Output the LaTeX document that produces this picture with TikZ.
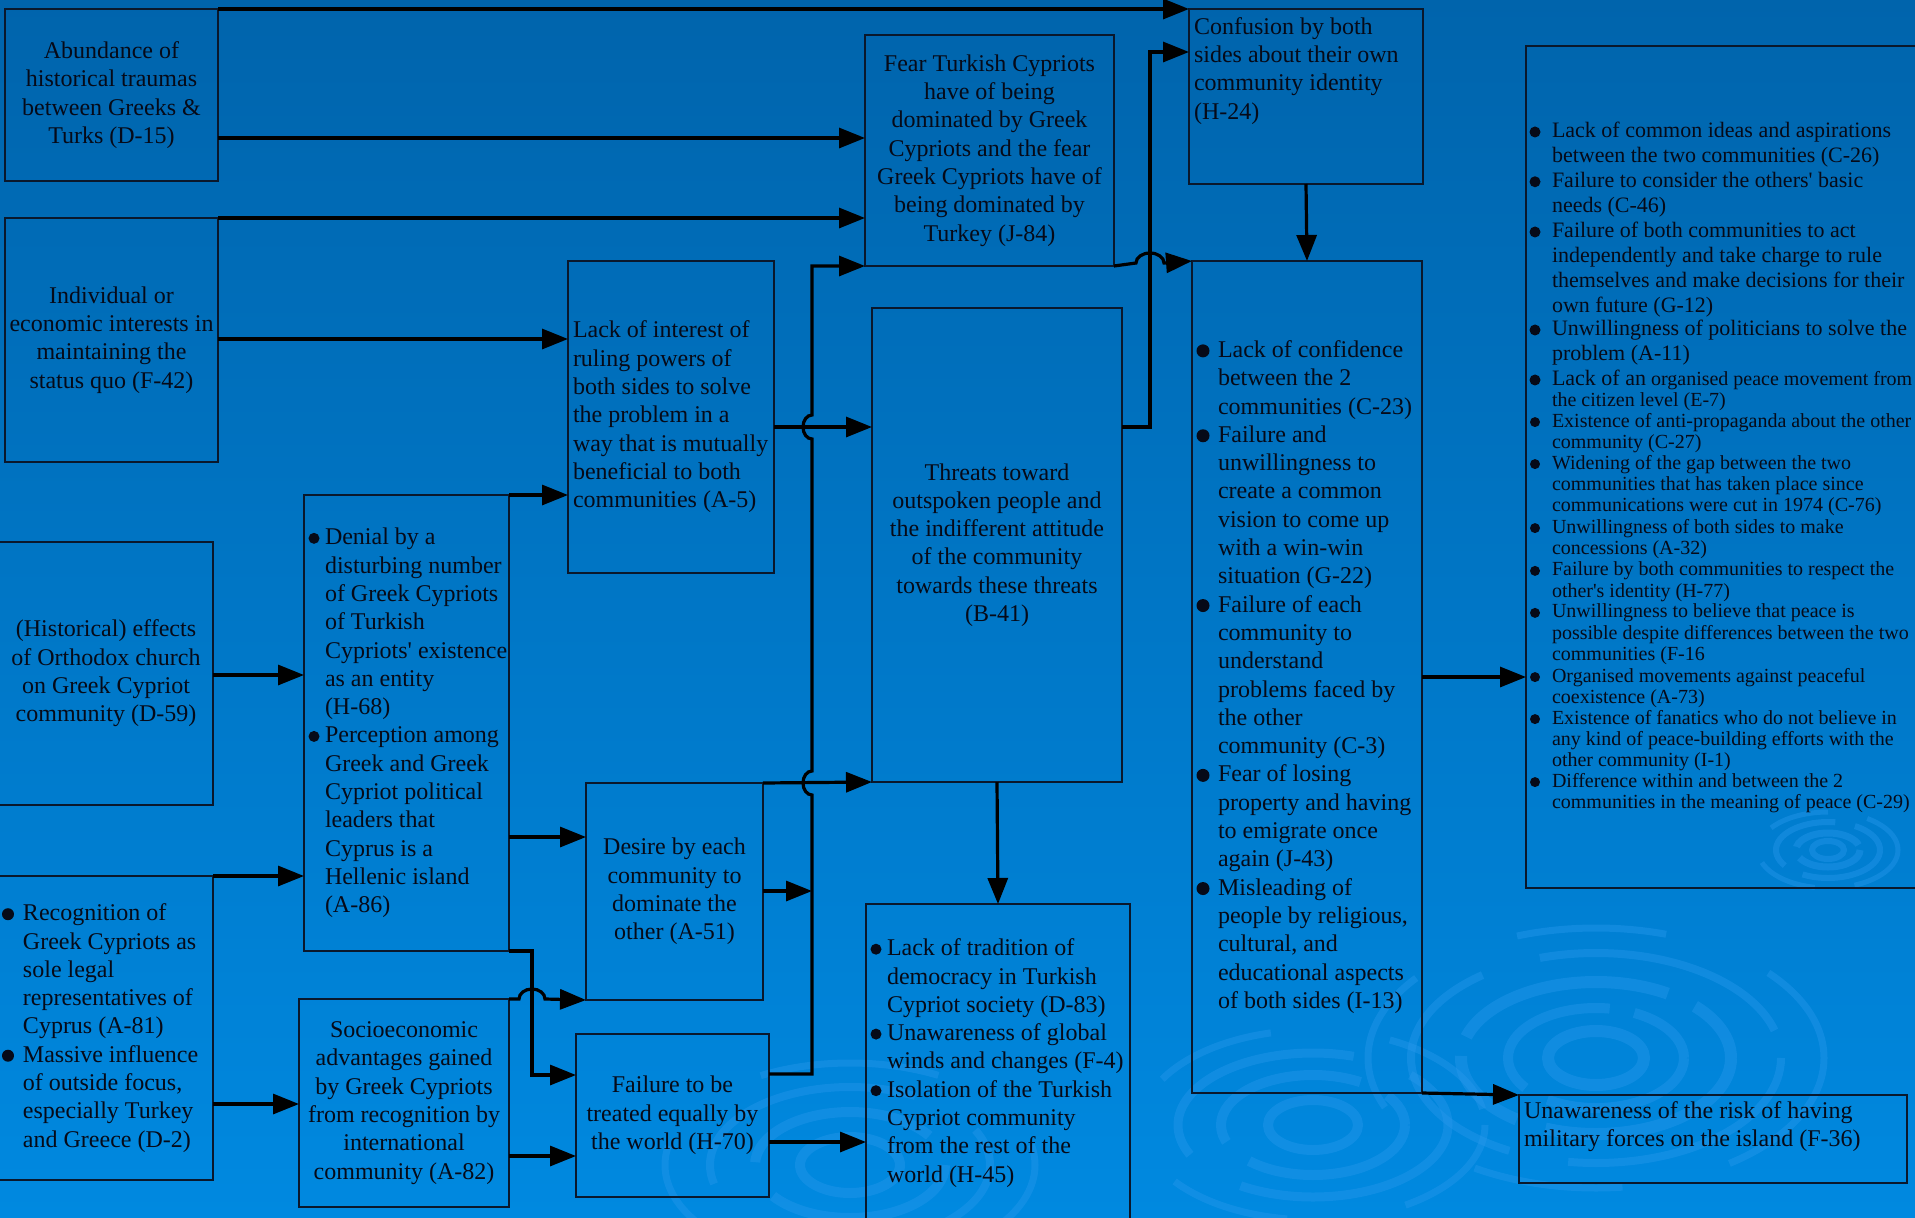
\documentclass[tikz,border=0pt]{standalone}
\usepackage{fontspec}
\setmainfont{Liberation Serif}
\usetikzlibrary{arrows.meta}

\definecolor{boxline}{RGB}{10,24,44}
\definecolor{ink}{RGB}{6,10,24}
\definecolor{bgtop}{RGB}{0,100,172}
\definecolor{bgmid}{RGB}{0,106,184}
\definecolor{bgbot}{RGB}{0,137,224}
\definecolor{ringc}{RGB}{40,152,236}

\newcommand\mainsize{\fontsize{24}{28.3}\selectfont}
\newcommand\bigitem{\fontsize{22}{25}\selectfont}
\newcommand\smallitem{\fontsize{20}{21.3}\selectfont}
% bullet: radius, centre height above baseline, gap before the text
\newcommand\blt[3]{\llap{\tikz[baseline=0pt]\fill[ink] (0pt,#2) circle[radius=#1];\hspace{#3}}}

\begin{document}
\begin{tikzpicture}[x=1pt,y=-1pt,
  box/.style={draw=boxline, line width=1.2pt, rectangle, inner sep=0pt, outer sep=0pt,
              font=\mainsize, text=ink, align=center},
  txt/.style={inner sep=0pt, outer sep=0pt, font=\mainsize, text=ink, align=left},
  itemtxt/.style={inner sep=0pt, outer sep=0pt, text=ink, align=left, anchor=north west},
  link/.style={line width=3.2pt, draw=black, -{Triangle[length=26pt,width=20pt]}},
  ringline/.style={draw=ringc, opacity=0.42}]

% background
\useasboundingbox (0,0) rectangle (1915,1218);
\shade[top color=bgtop, middle color=bgmid, bottom color=bgbot] (0,0) rectangle (1915,1218);

% water ripples
\begin{scope}[ringline]
  \draw[line width=12pt] (1596,1058) ellipse[x radius=48, y radius=27];
  \draw[line width=10pt, dash pattern=on 160pt off 25pt] (1596,1058) ellipse[x radius=88, y radius=50];
  \draw[line width=12pt, dash pattern=on 220pt off 30pt on 90pt off 20pt] (1596,1058) ellipse[x radius=135, y radius=76];
  \draw[line width=8pt, dash pattern=on 260pt off 60pt] (1596,1058) ellipse[x radius=185, y radius=105];
  \draw[line width=7pt, dash pattern=on 150pt off 110pt] (1596,1058) ellipse[x radius=228, y radius=130];
  \draw[line width=10pt] (1313,1125) ellipse[x radius=45, y radius=25];
  \draw[line width=10pt, dash pattern=on 180pt off 30pt] (1313,1125) ellipse[x radius=92, y radius=50];
  \draw[line width=9pt, dash pattern=on 240pt off 60pt] (1313,1125) ellipse[x radius=135, y radius=72];
  \draw[line width=7pt, dash pattern=on 120pt off 120pt] (1313,1125) ellipse[x radius=172, y radius=95];
  \draw[line width=6pt] (1828,850) ellipse[x radius=16, y radius=9];
  \draw[line width=7pt, dash pattern=on 70pt off 12pt] (1828,850) ellipse[x radius=32, y radius=17];
  \draw[line width=6pt, dash pattern=on 90pt off 20pt] (1828,850) ellipse[x radius=52, y radius=28];
  \draw[line width=5pt, dash pattern=on 60pt off 40pt] (1828,850) ellipse[x radius=70, y radius=38];
  \draw[line width=10pt] (850,1165) ellipse[x radius=50, y radius=28];
  \draw[line width=10pt, dash pattern=on 200pt off 40pt] (850,1165) ellipse[x radius=95, y radius=53];
  \draw[line width=8pt, dash pattern=on 260pt off 70pt] (850,1165) ellipse[x radius=140, y radius=78];
  \draw[line width=7pt, dash pattern=on 180pt off 120pt] (850,1165) ellipse[x radius=185, y radius=102];
\end{scope}

% boxes of the left columns
\node[box, minimum width=213pt, minimum height=172pt] (d15) at (111.5,95)
  {Abundance of\\historical traumas\\between Greeks \&\\Turks (D-15)};
\node[box, minimum width=213pt, minimum height=244pt] (f42) at (111.5,340)
  {Individual or\\economic interests in\\maintaining the\\status quo (F-42)};
\node[box, minimum width=214pt, minimum height=263pt] (d59) at (106,673.5)
  {(Historical) effects\\of Orthodox church\\on Greek Cypriot\\community (D-59)};
\node[box, minimum width=214pt, minimum height=304pt] (a81) at (106,1028) {};
\node[txt, anchor=west] (a81t) at ([xshift=24pt]a81.west)
  {\blt{6pt}{6.5pt}{9pt}Recognition of\\Greek Cypriots as\\sole legal\\representatives of\\Cyprus (A-81)\\
   \blt{6pt}{6.5pt}{9pt}Massive influence\\of outside focus,\\especially Turkey\\and Greece (D-2)};

\node[box, minimum width=205pt, minimum height=456pt] (h68) at (406.5,723) {};
\node[txt, anchor=west] (h68t) at ([xshift=21pt]h68.west)
  {\blt{5.5pt}{6.5pt}{5.5pt}Denial by a\\disturbing number\\of Greek Cypriots\\of Turkish\\Cypriots\textquotesingle{} existence\\as an entity\\(H-68)\\
   \blt{5.5pt}{6.5pt}{5.5pt}Perception among\\Greek and Greek\\Cypriot political\\leaders that\\Cyprus is a\\Hellenic island\\(A-86)};
\node[box, minimum width=210pt, minimum height=208pt] (a82) at (404,1103)
  {Socioeconomic\\advantages gained\\by Greek Cypriots\\from recognition by\\international\\community (A-82)};

\node[box, minimum width=206pt, minimum height=312pt] (a5) at (671,417) {};
\node[txt, anchor=west] (a5t) at ([xshift=5pt]a5.west)
  {Lack of interest of\\ruling powers of\\both sides to solve\\the problem in a\\way that is mutually\\beneficial to both\\communities (A-5)};
\node[box, minimum width=177pt, minimum height=217pt] (a51) at (674.5,891.5)
  {Desire by each\\community to\\dominate the\\other (A-51)};
\node[box, minimum width=193pt, minimum height=163pt] (h70) at (672.5,1115.5)
  {Failure to be\\treated equally by\\the world (H-70)};

% middle column
\node[box, minimum width=249pt, minimum height=231pt] (j84) at (989.5,150.5)
  {Fear Turkish Cypriots\\have of being\\dominated by Greek\\Cypriots and the fear\\Greek Cypriots have of\\being dominated by\\Turkey (J-84)};
\node[box, minimum width=250pt, minimum height=474pt] (b41) at (997,545)
  {Threats toward\\outspoken people and\\the indifferent attitude\\of the community\\towards these threats\\(B-41)};
\node[box, minimum width=264pt, minimum height=318pt] (d83) at (998,1063) {};
\node[txt, anchor=west] (d83t) at ([xshift=21pt]d83.west)
  {\blt{5.5pt}{6.5pt}{5.5pt}Lack of tradition of\\democracy in Turkish\\Cypriot society (D-83)\\
   \blt{5.5pt}{6.5pt}{5.5pt}Unawareness of global\\winds and changes (F-4)\\
   \blt{5.5pt}{6.5pt}{5.5pt}Isolation of the Turkish\\Cypriot community\\from the rest of the\\world (H-45)};

% right part
\node[box, minimum width=234pt, minimum height=175pt] (h24) at (1306,96.5) {};
\node[txt, anchor=north west] (h24t) at ([xshift=5pt,yshift=-8.5pt]h24.north west)
  {Confusion by both\\sides about their own\\community identity\\(H-24)};
\node[box, minimum width=230pt, minimum height=832pt] (c23) at (1307,677) {};
\node[txt, anchor=west] (c23t) at ([xshift=26pt]c23.west)
  {\blt{6.5pt}{6.6pt}{8.5pt}Lack of confidence\\between the 2\\communities (C-23)\\
   \blt{6.5pt}{6.6pt}{8.5pt}Failure and\\unwillingness to\\create a common\\vision to come up\\with a win-win\\situation (G-22)\\
   \blt{6.5pt}{6.6pt}{8.5pt}Failure of each\\community to\\understand\\problems faced by\\the other\\community (C-3)\\
   \blt{6.5pt}{6.6pt}{8.5pt}Fear of losing\\property and having\\to emigrate once\\again (J-43)\\
   \blt{6.5pt}{6.6pt}{8.5pt}Misleading of\\people by religious,\\cultural, and\\educational aspects\\of both sides (I-13)};

\node[box, minimum width=399pt, minimum height=842pt] (list) at (1725.5,467) {};
\node[itemtxt, font=\bigitem] (l1) at (1552,122)
  {\blt{5.5pt}{5.5pt}{11.5pt}Lack of common ideas and aspirations\\between the two communities (C-26)};
\node[itemtxt, font=\bigitem] (l2) at (1552,172)
  {\blt{5.5pt}{5.5pt}{11.5pt}Failure to consider the others\textquotesingle{} basic\\needs (C-46)};
\node[itemtxt, font=\bigitem] (l3) at (1552,222)
  {\blt{5.5pt}{5.5pt}{11.5pt}Failure of both communities to act\\independently and take charge to rule\\themselves and make decisions for their\\own future (G-12)};
\node[itemtxt, font=\bigitem] (l4) at (1552,320)
  {\blt{5.5pt}{5.5pt}{11.5pt}Unwillingness of politicians to solve the\\problem (A-11)};
\node[itemtxt, font=\smallitem] (l5) at (1552,370)
  {\blt{5.5pt}{5.5pt}{11.5pt}{\bigitem Lack of an} organised peace movement from\\the citizen level (E-7)};
\node[itemtxt, font=\smallitem] (l6) at (1552,413)
  {\blt{5pt}{5pt}{12pt}Existence of anti-propaganda about the other\\community (C-27)};
\node[itemtxt, font=\smallitem] (l7) at (1552,455)
  {\blt{5pt}{5pt}{12pt}Widening of the gap between the two\\communities that has taken place since\\communications were cut in 1974 (C-76)};
\node[itemtxt, font=\smallitem] (l8) at (1552,519)
  {\blt{5pt}{5pt}{12pt}Unwillingness of both sides to make\\concessions (A-32)};
\node[itemtxt, font=\smallitem] (l9) at (1552,562)
  {\blt{5pt}{5pt}{12pt}Failure by both communities to respect the\\other\textquotesingle{}s identity (H-77)};
\node[itemtxt, font=\smallitem] (l10) at (1552,604)
  {\blt{5pt}{5pt}{12pt}Unwillingness to believe that peace is\\possible despite differences between the two\\communities (F-16};
\node[itemtxt, font=\smallitem] (l11) at (1552,668)
  {\blt{5pt}{5pt}{12pt}Organised movements against peaceful\\coexistence (A-73)};
\node[itemtxt, font=\smallitem] (l12) at (1552,710)
  {\blt{5pt}{5pt}{12pt}Existence of fanatics who do not believe in\\any kind of peace-building efforts with the\\other community (I-1)};
\node[itemtxt, font=\smallitem] (l13) at (1552,773)
  {\blt{5pt}{5pt}{12pt}Difference within and between the 2\\communities in the meaning of peace (C-29)};

\node[box, minimum width=388pt, minimum height=88pt] (f36) at (1713,1139) {};
\node[txt, anchor=north west] (f36t) at ([xshift=5pt,yshift=-6.5pt]f36.north west)
  {Unawareness of the risk of having\\military forces on the island (F-36)};

% trunk junction on the vertical collector
\coordinate (tr) at (812,891);

% connectors
\draw[link] (d15.north east) -- (h24.north west);
\draw[link] (d15.east |- 0,138) -- (j84.west |- 0,138);
\draw[link] (f42.north east) -- (j84.west |- f42.north east);
\draw[link] (f42.east |- 0,339) -- (a5.west |- 0,339);
\draw[link] (h68.north east) -- (a5.west |- h68.north east);
\draw[link] (d59.east |- 0,675) -- (h68.west |- 0,675);
\draw[link] (a81.north east) -- (h68.west |- a81.north east);
\draw[link] (a81.east |- 0,1104) -- (a82.west |- 0,1104);
\draw[link] (h68.east |- 0,837) -- (a51.west |- 0,837);
\draw[link] (h68.south east) -- ++(23,0) |- (h70.west |- 0,1075);
\draw[link] (a82.north east) -- (519,999) arc[start angle=180, end angle=360, x radius=13, y radius=10] -- (a51.south west);
\draw[link] (a82.east |- 0,1156) -- (h70.west |- 0,1156);
\draw[link] (a51.east |- tr) -- (tr);
\draw[link] (h70.east |- 0,1074) -- (812,1074) -- (812,795)
  arc[start angle=90, end angle=270, x radius=9, y radius=12] -- (812,439)
  arc[start angle=90, end angle=270, x radius=9, y radius=12] -- (812,266) -- (j84.south west);
\draw[link] (a5.east |- 0,427) -- (b41.west |- 0,427);
\draw[link] (a51.north east) -- (b41.south west);
\draw[link] (h70.east |- 0,1142) -- (d83.west |- 0,1142);
\draw[link] (b41.south) -- (d83.north);
\draw[link] (b41.east |- 0,427) -- (1150,427) |- (h24.west |- 0,52);
\draw[link] (j84.south east) -- (1136,263) arc[start angle=180, end angle=360, x radius=14, y radius=10] -- (c23.north west);
\draw[link] (h24.south) -- (c23.north);
\draw[link] (c23.east |- 0,677) -- (list.west |- 0,677);
\draw[link] (c23.south east) -- (f36.north west);
\end{tikzpicture}
\end{document}
